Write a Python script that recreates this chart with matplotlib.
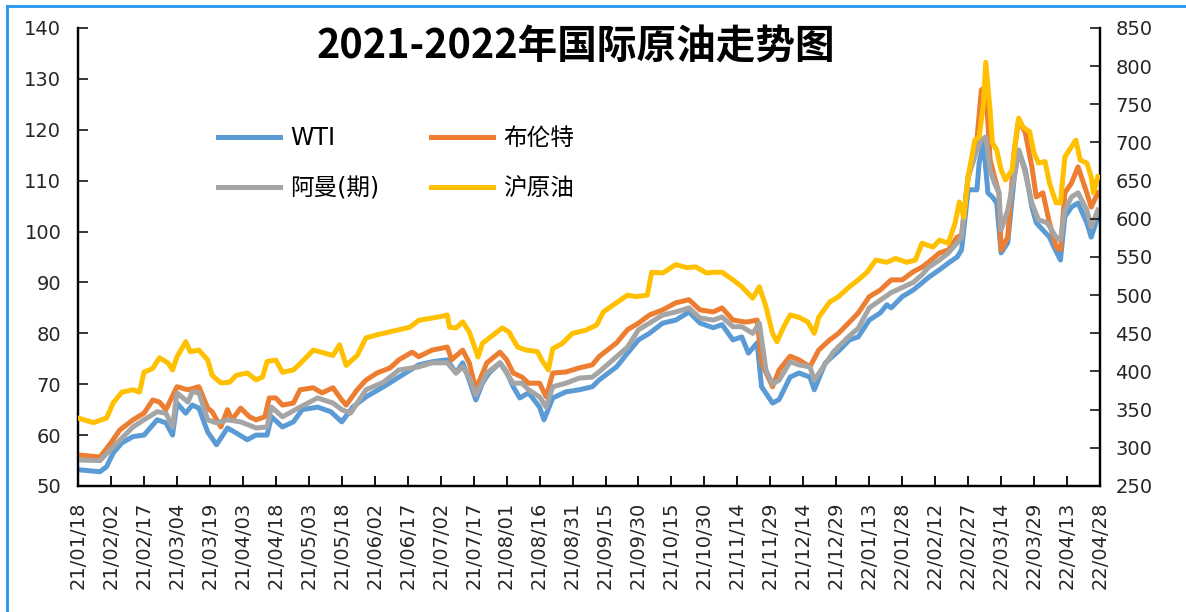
import matplotlib
matplotlib.use("Agg")
import matplotlib.pyplot as plt
import matplotlib.dates as mdates
from matplotlib.lines import Line2D
import pandas as pd

plt.rcParams['font.family'] = ['DejaVu Sans', 'Noto Sans CJK SC']

# WTI (left axis, USD/bbl)
wti_dates = ['2021-01-18', '2021-01-28', '2021-01-31', '2021-02-03', '2021-02-07', '2021-02-12',
             '2021-02-17', '2021-02-23', '2021-02-27', '2021-03-02', '2021-03-04', '2021-03-08',
             '2021-03-11', '2021-03-14', '2021-03-18', '2021-03-22', '2021-03-27', '2021-03-31',
             '2021-04-05', '2021-04-09', '2021-04-14', '2021-04-16', '2021-04-21', '2021-04-26',
             '2021-04-30', '2021-05-07', '2021-05-13', '2021-05-18', '2021-05-23', '2021-05-29',
             '2021-06-06', '2021-06-13', '2021-06-22', '2021-06-28', '2021-07-05', '2021-07-09',
             '2021-07-12', '2021-07-15', '2021-07-18', '2021-07-21', '2021-07-24', '2021-07-29',
             '2021-08-01', '2021-08-04', '2021-08-07', '2021-08-11', '2021-08-16', '2021-08-18',
             '2021-08-22', '2021-08-28', '2021-09-03', '2021-09-09', '2021-09-12', '2021-09-20',
             '2021-09-25', '2021-09-30', '2021-10-05', '2021-10-11', '2021-10-17', '2021-10-23',
             '2021-10-28', '2021-11-03', '2021-11-07', '2021-11-12', '2021-11-16', '2021-11-19',
             '2021-11-23', '2021-11-25', '2021-11-30', '2021-12-03', '2021-12-08', '2021-12-12',
             '2021-12-17', '2021-12-19', '2021-12-24', '2021-12-30', '2022-01-04', '2022-01-08',
             '2022-01-13', '2022-01-18', '2022-01-21', '2022-01-23', '2022-01-28', '2022-02-02',
             '2022-02-06', '2022-02-09', '2022-02-14', '2022-02-18', '2022-02-22', '2022-02-24',
             '2022-02-27', '2022-03-03', '2022-03-04', '2022-03-06', '2022-03-08', '2022-03-10',
             '2022-03-12', '2022-03-14', '2022-03-17', '2022-03-20', '2022-03-22', '2022-03-25',
             '2022-03-28', '2022-03-30', '2022-04-02', '2022-04-05', '2022-04-07', '2022-04-10',
             '2022-04-12', '2022-04-15', '2022-04-18', '2022-04-22', '2022-04-24', '2022-04-27']
wti = [53.2, 52.8, 53.8, 56.5, 58.5, 59.7,
       60.0, 63.0, 62.4, 60.0, 66.3, 64.3,
       65.9, 65.3, 60.6, 58.1, 61.4, 60.4,
       59.1, 60.0, 60.0, 63.6, 61.6, 62.6,
       65.0, 65.5, 64.6, 62.6, 65.5, 67.5,
       69.5, 71.4, 73.8, 74.4, 74.8, 72.2,
       74.2, 70.8, 66.9, 70.2, 72.2, 74.2,
       72.4, 69.5, 67.3, 68.3, 65.5, 63.0,
       67.3, 68.5, 68.9, 69.5, 70.8, 73.4,
       76.1, 78.7, 80.0, 82.0, 82.6, 84.2,
       82.0, 81.1, 81.7, 78.7, 79.3, 76.1,
       78.1, 69.5, 66.3, 67.0, 71.4, 72.2,
       71.4, 68.9, 74.2, 76.5, 78.7, 79.3,
       82.6, 84.0, 85.6, 85.0, 87.2, 88.5,
       89.9, 91.0, 92.5, 93.8, 95.0, 96.4,
       108.2, 108.2, 113.5, 117.4, 107.6, 106.8,
       105.6, 95.8, 97.8, 110.7, 116.0, 112.1,
       104.8, 101.7, 100.3, 98.9, 97.0, 94.4,
       102.9, 104.8, 105.6, 101.7, 98.9, 102.9]

# Brent (left axis)
brent_dates = ['2021-01-18', '2021-01-28', '2021-02-02', '2021-02-06', '2021-02-12', '2021-02-17',
               '2021-02-21', '2021-02-24', '2021-02-27', '2021-03-04', '2021-03-09', '2021-03-14',
               '2021-03-18', '2021-03-20', '2021-03-24', '2021-03-27', '2021-03-29', '2021-04-02',
               '2021-04-06', '2021-04-09', '2021-04-13', '2021-04-15', '2021-04-18', '2021-04-21',
               '2021-04-26', '2021-04-29', '2021-05-05', '2021-05-09', '2021-05-14', '2021-05-18',
               '2021-05-20', '2021-05-25', '2021-05-29', '2021-06-03', '2021-06-09', '2021-06-13',
               '2021-06-19', '2021-06-22', '2021-06-28', '2021-07-05', '2021-07-07', '2021-07-12',
               '2021-07-15', '2021-07-18', '2021-07-23', '2021-07-29', '2021-08-01', '2021-08-04',
               '2021-08-08', '2021-08-11', '2021-08-16', '2021-08-19', '2021-08-22', '2021-08-28',
               '2021-09-03', '2021-09-09', '2021-09-12', '2021-09-20', '2021-09-25', '2021-09-30',
               '2021-10-05', '2021-10-11', '2021-10-17', '2021-10-23', '2021-10-28', '2021-11-03',
               '2021-11-07', '2021-11-12', '2021-11-18', '2021-11-23', '2021-11-25', '2021-11-30',
               '2021-12-03', '2021-12-08', '2021-12-12', '2021-12-17', '2021-12-21', '2021-12-26',
               '2021-12-30', '2022-01-04', '2022-01-08', '2022-01-13', '2022-01-18', '2022-01-23',
               '2022-01-28', '2022-02-02', '2022-02-06', '2022-02-09', '2022-02-14', '2022-02-18',
               '2022-02-22', '2022-02-24', '2022-02-27', '2022-03-03', '2022-03-05', '2022-03-07',
               '2022-03-09', '2022-03-11', '2022-03-13', '2022-03-14', '2022-03-17', '2022-03-20',
               '2022-03-22', '2022-03-25', '2022-03-28', '2022-03-30', '2022-04-02', '2022-04-05',
               '2022-04-08', '2022-04-10', '2022-04-12', '2022-04-15', '2022-04-18', '2022-04-22',
               '2022-04-24', '2022-04-27']
brent = [56.1, 55.7, 58.5, 61.0, 63.0, 64.3,
         66.9, 66.5, 65.0, 69.5, 68.9, 69.5,
         65.3, 64.6, 61.6, 65.0, 63.0, 65.3,
         63.6, 63.0, 63.6, 67.3, 67.3, 65.9,
         66.3, 68.9, 69.3, 68.3, 69.3, 66.9,
         65.9, 68.9, 70.8, 72.2, 73.2, 74.8,
         76.3, 75.4, 76.7, 77.3, 74.8, 76.7,
         74.2, 69.0, 74.2, 76.3, 74.8, 72.2,
         71.4, 70.2, 70.2, 67.5, 72.2, 72.4,
         73.2, 73.8, 75.4, 78.1, 80.7, 82.0,
         83.6, 84.6, 86.0, 86.6, 84.6, 84.2,
         85.0, 82.6, 82.2, 82.6, 74.2, 69.5,
         72.8, 75.5, 74.8, 73.4, 76.7, 78.7,
         80.0, 82.2, 84.0, 87.2, 88.5, 90.5,
         90.5, 92.1, 93.0, 94.0, 95.8, 96.4,
         98.9, 99.3, 110.7, 118.0, 127.8, 128.5,
         114.1, 110.7, 107.6, 96.4, 98.9, 116.0,
         121.9, 119.4, 112.7, 106.8, 107.6, 101.7,
         97.0, 96.4, 107.6, 109.5, 112.7, 107.6,
         104.8, 107.6]

# Oman futures (left axis)
oman_dates = ['2021-01-18', '2021-01-28', '2021-02-03', '2021-02-12', '2021-02-17', '2021-02-23',
              '2021-02-27', '2021-03-02', '2021-03-04', '2021-03-09', '2021-03-11', '2021-03-14',
              '2021-03-18', '2021-03-22', '2021-03-27', '2021-04-02', '2021-04-09', '2021-04-14',
              '2021-04-16', '2021-04-21', '2021-04-29', '2021-05-07', '2021-05-14', '2021-05-18',
              '2021-05-22', '2021-05-29', '2021-06-06', '2021-06-13', '2021-06-22', '2021-06-28',
              '2021-07-05', '2021-07-09', '2021-07-12', '2021-07-15', '2021-07-18', '2021-07-23',
              '2021-07-29', '2021-08-01', '2021-08-04', '2021-08-08', '2021-08-11', '2021-08-16',
              '2021-08-19', '2021-08-22', '2021-08-28', '2021-09-03', '2021-09-09', '2021-09-12',
              '2021-09-20', '2021-09-25', '2021-09-30', '2021-10-05', '2021-10-11', '2021-10-17',
              '2021-10-23', '2021-10-28', '2021-11-03', '2021-11-07', '2021-11-12', '2021-11-16',
              '2021-11-21', '2021-11-24', '2021-11-27', '2021-11-30', '2021-12-03', '2021-12-08',
              '2021-12-12', '2021-12-17', '2021-12-19', '2021-12-24', '2021-12-28', '2022-01-04',
              '2022-01-08', '2022-01-13', '2022-01-18', '2022-01-23', '2022-01-28', '2022-02-02',
              '2022-02-06', '2022-02-09', '2022-02-14', '2022-02-18', '2022-02-22', '2022-02-24',
              '2022-02-27', '2022-03-03', '2022-03-05', '2022-03-07', '2022-03-09', '2022-03-11',
              '2022-03-13', '2022-03-14', '2022-03-17', '2022-03-20', '2022-03-22', '2022-03-25',
              '2022-03-28', '2022-03-31', '2022-04-04', '2022-04-08', '2022-04-10', '2022-04-12',
              '2022-04-15', '2022-04-18', '2022-04-22', '2022-04-24', '2022-04-27']
oman = [55.1, 55.0, 57.7, 61.6, 63.0, 64.6,
        64.3, 61.6, 68.3, 66.5, 68.5, 68.3,
        63.0, 62.4, 63.0, 62.6, 61.4, 61.6,
        65.5, 63.6, 65.5, 67.3, 66.3, 65.0,
        64.3, 68.9, 70.4, 72.8, 73.4, 74.2,
        74.2, 72.2, 73.4, 71.4, 67.9, 72.2,
        74.2, 72.2, 70.2, 70.2, 68.9, 67.5,
        65.5, 69.5, 70.2, 71.2, 71.4, 72.4,
        75.4, 77.3, 80.7, 82.0, 83.6, 84.2,
        85.0, 83.0, 82.6, 83.2, 81.3, 81.3,
        80.0, 82.0, 72.8, 70.0, 70.8, 74.4,
        73.8, 73.4, 70.8, 74.0, 76.5, 79.5,
        81.0, 85.0, 86.5, 88.0, 89.0, 90.0,
        91.5, 93.0, 94.4, 95.8, 97.8, 98.9,
        110.7, 116.0, 118.0, 118.6, 112.1, 109.5,
        107.6, 100.3, 104.2, 110.7, 116.0, 111.5,
        105.6, 102.3, 101.7, 98.9, 98.3, 104.2,
        106.8, 107.6, 104.2, 100.9, 104.2]

# Shanghai crude (right axis, CNY/bbl)
sc_dates = ['2021-01-18', '2021-01-25', '2021-01-31', '2021-02-03', '2021-02-07', '2021-02-12',
            '2021-02-15', '2021-02-17', '2021-02-21', '2021-02-24', '2021-02-28', '2021-03-02',
            '2021-03-04', '2021-03-08', '2021-03-10', '2021-03-14', '2021-03-18', '2021-03-20',
            '2021-03-24', '2021-03-28', '2021-03-31', '2021-04-05', '2021-04-09', '2021-04-12',
            '2021-04-14', '2021-04-18', '2021-04-21', '2021-04-26', '2021-04-30', '2021-05-05',
            '2021-05-09', '2021-05-14', '2021-05-17', '2021-05-20', '2021-05-25', '2021-05-29',
            '2021-06-03', '2021-06-06', '2021-06-12', '2021-06-18', '2021-06-22', '2021-06-28',
            '2021-07-02', '2021-07-05', '2021-07-06', '2021-07-09', '2021-07-12', '2021-07-15',
            '2021-07-19', '2021-07-21', '2021-07-26', '2021-07-30', '2021-08-02', '2021-08-06',
            '2021-08-10', '2021-08-15', '2021-08-17', '2021-08-20', '2021-08-22', '2021-08-26',
            '2021-08-31', '2021-09-06', '2021-09-11', '2021-09-14', '2021-09-20', '2021-09-25',
            '2021-09-29', '2021-10-04', '2021-10-06', '2021-10-11', '2021-10-17', '2021-10-22',
            '2021-10-26', '2021-10-31', '2021-11-03', '2021-11-07', '2021-11-12', '2021-11-16',
            '2021-11-21', '2021-11-24', '2021-11-27', '2021-11-30', '2021-12-02', '2021-12-05',
            '2021-12-08', '2021-12-12', '2021-12-16', '2021-12-19', '2021-12-21', '2021-12-26',
            '2021-12-30', '2022-01-04', '2022-01-08', '2022-01-12', '2022-01-16', '2022-01-21',
            '2022-01-25', '2022-01-30', '2022-02-03', '2022-02-06', '2022-02-11', '2022-02-14',
            '2022-02-18', '2022-02-21', '2022-02-23', '2022-02-25', '2022-02-27', '2022-03-02',
            '2022-03-04', '2022-03-06', '2022-03-07', '2022-03-09', '2022-03-10', '2022-03-12',
            '2022-03-14', '2022-03-16', '2022-03-19', '2022-03-21', '2022-03-22', '2022-03-24',
            '2022-03-27', '2022-03-29', '2022-03-31', '2022-04-03', '2022-04-05', '2022-04-08',
            '2022-04-10', '2022-04-12', '2022-04-14', '2022-04-17', '2022-04-19', '2022-04-22',
            '2022-04-24', '2022-04-25', '2022-04-27']
sc = [339, 333, 339, 359, 373, 376,
      373, 399, 404, 418, 411, 402,
      419, 439, 426, 428, 415, 395,
      385, 386, 395, 398, 389, 393,
      413, 415, 399, 402, 413, 428,
      425, 421, 435, 408, 421, 444,
      448, 450, 454, 458, 467, 470,
      472, 474, 458, 457, 465, 452,
      419, 437, 448, 457, 452, 432,
      428, 426, 415, 402, 430, 436,
      450, 454, 461, 478, 490, 500,
      498, 500, 530, 529, 540, 536,
      537, 529, 530, 530, 520, 511,
      496, 511, 485, 450, 439, 458,
      474, 471, 465, 450, 471, 491,
      498, 511, 520, 530, 546, 543,
      548, 543, 546, 568, 563, 572,
      568, 594, 622, 602, 655, 703,
      707, 751, 805, 742, 700, 690,
      664, 651, 664, 712, 732, 720,
      714, 686, 673, 675, 647, 621,
      621, 681, 690, 703, 677, 673,
      655, 634, 655]

fig = plt.figure(figsize=(11.86, 6.12), dpi=100)
ax = fig.add_axes([0.0658, 0.2059, 0.8617, 0.7484])
ax2 = ax.twinx()

l_wti, = ax.plot(pd.to_datetime(wti_dates), wti, color='#5B9BD5', lw=3.6, label='WTI', zorder=2)
l_brent, = ax.plot(pd.to_datetime(brent_dates), brent, color='#ED7D31', lw=3.6, label='布伦特', zorder=3)
l_oman, = ax.plot(pd.to_datetime(oman_dates), oman, color='#A5A5A5', lw=3.6, label='阿曼(期)', zorder=4)
l_sc, = ax2.plot(pd.to_datetime(sc_dates), sc, color='#FFC000', lw=3.6, label='沪原油', zorder=5)

start, end = pd.Timestamp('2021-01-18'), pd.Timestamp('2022-04-28')
ax.set_xlim(start, end)
ax.set_ylim(50, 140)
ax.set_yticks(range(50, 141, 10))
ax2.set_ylim(250, 850)
ax2.set_yticks(range(250, 851, 50))

ticks = pd.date_range(start, end, freq='15D')
ax.set_xticks(ticks)
ax.xaxis.set_major_formatter(mdates.DateFormatter('%y/%m/%d'))
for lab in ax.get_xticklabels():
    lab.set_rotation(90)

txt = '#262626'
ax.tick_params(axis='both', direction='in', length=7, width=1.3, labelsize=14, colors=txt)
ax.tick_params(axis='y', pad=12)
ax.tick_params(axis='x', pad=11)
ax2.tick_params(axis='y', direction='in', length=7, width=1.3, labelsize=14, colors=txt, pad=11)
ax.tick_params(axis='x', colors='black', labelcolor=txt)

for a in (ax, ax2):
    a.spines['top'].set_visible(False)
    for s in ('left', 'right', 'bottom'):
        a.spines[s].set_linewidth(1.6)
        a.spines[s].set_color('black')

# legend laid out as two columns: WTI / 阿曼(期) then 布伦特 / 沪原油
ax2.legend([l_wti, l_oman, l_brent, l_sc], ['WTI', '阿曼(期)', '布伦特', '沪原油'],
           ncol=2, frameon=False, fontsize=17, loc='upper left',
           bbox_to_anchor=(0.128, 0.806), borderaxespad=0, handlelength=2.63,
           handletextpad=0.42, columnspacing=2.2, labelspacing=1.1)

fig.text(576 / 1186, 1 - 47 / 612, '2021-2022年国际原油走势图', ha='center', va='center',
         fontsize=28.5, fontweight='bold', family=['Noto Sans CJK SC'], color='black')

# light blue frame on the left and top edges
fig.add_artist(Line2D([7 / 1186, 7 / 1186], [0, 1 - 6 / 612], color='#2196F3', lw=2,
                      transform=fig.transFigure))
fig.add_artist(Line2D([7 / 1186, 1], [1 - 6 / 612, 1 - 6 / 612], color='#2196F3', lw=2,
                      transform=fig.transFigure))

fig.savefig('out.png', dpi=100, facecolor='white')
